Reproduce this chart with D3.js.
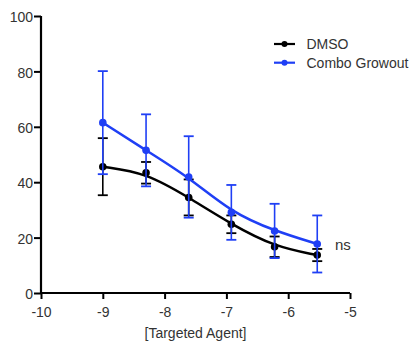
<!DOCTYPE html>
<html><head><meta charset="utf-8">
<script src="https://cdn.jsdelivr.net/npm/d3@7"></script>
<style>body{margin:0;background:#fff;}svg{display:block;font-family:"Liberation Sans",Arial,sans-serif;}</style>
</head><body><div id="c"></div>
<script>
const doses = [-9, -8.30, -7.61, -6.92, -6.22, -5.53];
const dmsoMean = [45.6, 43.4, 34.5, 24.8, 16.7, 13.7];
const dmsoErr = [10.3, 3.9, 6.5, 3.2, 3.7, 2.2];
const comboMean = [61.5, 51.5, 41.9, 29.1, 22.4, 17.7];
const comboErr = [18.6, 13.0, 14.7, 9.9, 9.8, 10.3];
const xTicks = [-10, -9, -8, -7, -6, -5];
const yTicks = [0, 20, 40, 60, 80, 100];
const seriesNames = ["DMSO", "Combo Growout"];
const seriesColors = ["#000000", "#1f3ff5"];

const W = 411, H = 344;
const svg = d3.select("#c").append("svg").attr("width", W).attr("height", H);
const x = d3.scaleLinear().domain([-10, -5]).range([41, 350]);
const y = d3.scaleLinear().domain([0, 100]).range([293, 16]);

const series = [
  {name: seriesNames[0], color: seriesColors[0], mean: dmsoMean, err: dmsoErr},
  {name: seriesNames[1], color: seriesColors[1], mean: comboMean, err: comboErr}
];

// axes
const xAxis = svg.append("g").attr("transform", `translate(0,${y(0)})`)
  .call(d3.axisBottom(x).tickValues(xTicks).tickSize(6).tickFormat(d => String(d)));
const yAxis = svg.append("g").attr("transform", `translate(${x(-10)},0)`)
  .call(d3.axisLeft(y).tickValues(yTicks).tickSize(7).tickFormat(d => String(d)));
[xAxis, yAxis].forEach(a => {
  a.select(".domain").attr("stroke", "#000").attr("stroke-width", 2.2);
  a.selectAll(".tick line").attr("stroke", "#000").attr("stroke-width", 2);
  a.selectAll(".tick text").attr("fill", "#333").style("font-size", "14px");
});
xAxis.selectAll(".tick text").attr("y", 24).attr("dy", 0);
yAxis.selectAll(".tick text").attr("dy", "0.4em").attr("x", -8);
xAxis.select(".domain").attr("d", `M${x(-10)},0H${x(-5)}`);
yAxis.select(".domain").attr("d", `M0,${y(100)}V${y(0)}`);

svg.append("text").attr("x", 195.5).attr("y", 338).attr("text-anchor", "middle")
  .attr("fill", "#333").style("font-size", "14px").text("[Targeted Agent]");

const line = d3.line().x(d => x(d[0])).y(d => y(d[1])).curve(d3.curveBasis);

series.forEach(s => {
  const g = svg.append("g");
  const pts = doses.map((d, i) => [d, s.mean[i], s.err[i]]);
  g.append("path").datum(pts).attr("d", line).attr("fill", "none")
    .attr("stroke", s.color).attr("stroke-width", 2.5);
  const eb = g.selectAll(".eb").data(pts).enter().append("g");
  eb.append("line").attr("x1", d => x(d[0])).attr("x2", d => x(d[0]))
    .attr("y1", d => y(d[1] + d[2])).attr("y2", d => y(d[1] - d[2]))
    .attr("stroke", s.color).attr("stroke-width", 1.6);
  [1, -1].forEach(sg => {
    eb.append("line").attr("x1", d => x(d[0]) - 5).attr("x2", d => x(d[0]) + 5)
      .attr("y1", d => y(d[1] + sg * d[2])).attr("y2", d => y(d[1] + sg * d[2]))
      .attr("stroke", s.color).attr("stroke-width", 1.8);
  });
  g.selectAll("circle").data(pts).enter().append("circle")
    .attr("cx", d => x(d[0])).attr("cy", d => y(d[1])).attr("r", 3.8).attr("fill", s.color);
});

svg.append("text").attr("x", 335).attr("y", 250).attr("fill", "#333")
  .style("font-size", "15px").text("ns");

// legend
series.forEach((s, i) => {
  const ly = 44 + i * 18.7;
  svg.append("line").attr("x1", 274).attr("x2", 295).attr("y1", ly).attr("y2", ly)
    .attr("stroke", s.color).attr("stroke-width", 2.2);
  svg.append("circle").attr("cx", 284.5).attr("cy", ly).attr("r", 3).attr("fill", s.color);
  svg.append("text").attr("x", 306.5).attr("y", ly + 5).attr("fill", "#333")
    .style("font-size", "14px").text(s.name);
});
</script></body></html>
